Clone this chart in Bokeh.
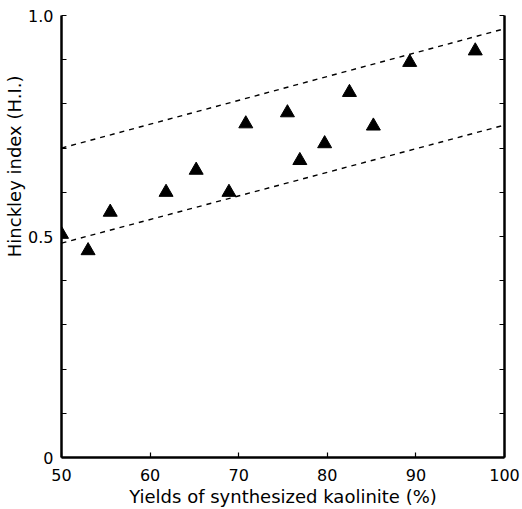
from bokeh.plotting import figure
from bokeh.models import LinearAxis, FixedTicker, Range1d, Title
from bokeh.embed import file_html
from bokeh.resources import INLINE

# Yield of synthesized kaolinite (%) vs. Hinckley index
yield_pct = [50.0, 53.0, 55.5, 61.8, 65.2, 68.9, 70.8, 75.5, 76.9, 79.7, 82.5, 85.2, 89.3, 96.7]
hinckley = [0.505, 0.468, 0.555, 0.600, 0.650, 0.600, 0.755, 0.780, 0.672, 0.710, 0.826, 0.750, 0.894, 0.920]

# envelope lines
band_x = [50, 100]
upper_y = [0.700, 0.970]
lower_y = [0.485, 0.752]

x_ticks = [50, 60, 70, 80, 90, 100]
y_ticks = [0, 0.5, 1.0]
y_minor = [0.1, 0.2, 0.3, 0.4, 0.6, 0.7, 0.8, 0.9]
y_labels = {0: "0", 0.5: "0.5", 1.0: "1.0"}

x_title = "Yields of synthesized kaolinite (%)"
y_title = "Hinckley index (H.I.)"

FONT = "DejaVu Sans"

p = figure(width=522, height=509, output_backend="svg", toolbar_location=None,
           x_range=Range1d(50, 100), y_range=Range1d(0, 1.0),
           min_border_left=61, min_border_right=18, min_border_top=15, min_border_bottom=52,
           x_axis_label=x_title)
p.outline_line_color = None
p.grid.visible = False
p.background_fill_color = "white"
p.border_fill_color = "white"

for ax in (p.xaxis[0], p.yaxis[0]):
    ax.axis_line_width = 2.5
    ax.axis_line_color = "black"
    ax.major_tick_in = 5
    ax.major_tick_out = 0
    ax.minor_tick_in = 5
    ax.minor_tick_out = 0
    ax.major_tick_line_width = 1.2
    ax.minor_tick_line_width = 1.2
    ax.major_label_text_font = FONT
    ax.major_label_text_font_size = "16px"
    ax.major_label_text_color = "black"
    ax.axis_label_text_font = FONT
    ax.axis_label_text_font_size = "18px"
    ax.axis_label_text_font_style = "normal"
    ax.axis_label_text_color = "black"

p.xaxis[0].ticker = FixedTicker(ticks=x_ticks)
p.xaxis[0].major_label_standoff = 11
p.xaxis[0].axis_label_standoff = 2

p.yaxis[0].ticker = FixedTicker(ticks=y_ticks, minor_ticks=y_minor)
p.yaxis[0].major_label_overrides = y_labels
p.yaxis[0].major_label_standoff = 8

# right-hand frame edge with inward ticks, no labels
right = LinearAxis(ticker=FixedTicker(ticks=y_ticks + y_minor))
right.axis_line_width = 2.5
right.major_tick_in = 5
right.major_tick_out = 0
right.major_tick_line_width = 1.2
right.major_label_text_color = None
right.major_label_standoff = 0
p.add_layout(right, "right")

# vertical axis title, set in the upper part of the left margin
p.add_layout(Title(text=y_title, align="right", offset=60, standoff=2,
                   text_font=FONT, text_font_size="18px", text_font_style="normal",
                   text_color="black"), "left")

p.line(band_x, upper_y, line_color="black", line_width=1.4, line_dash="5 5")
p.line(band_x, lower_y, line_color="black", line_width=1.4, line_dash="5 5")

p.scatter(yield_pct, hinckley, marker="triangle", size=14,
          fill_color="black", line_color="black")

open("out.html", "w").write(file_html(p, INLINE))
